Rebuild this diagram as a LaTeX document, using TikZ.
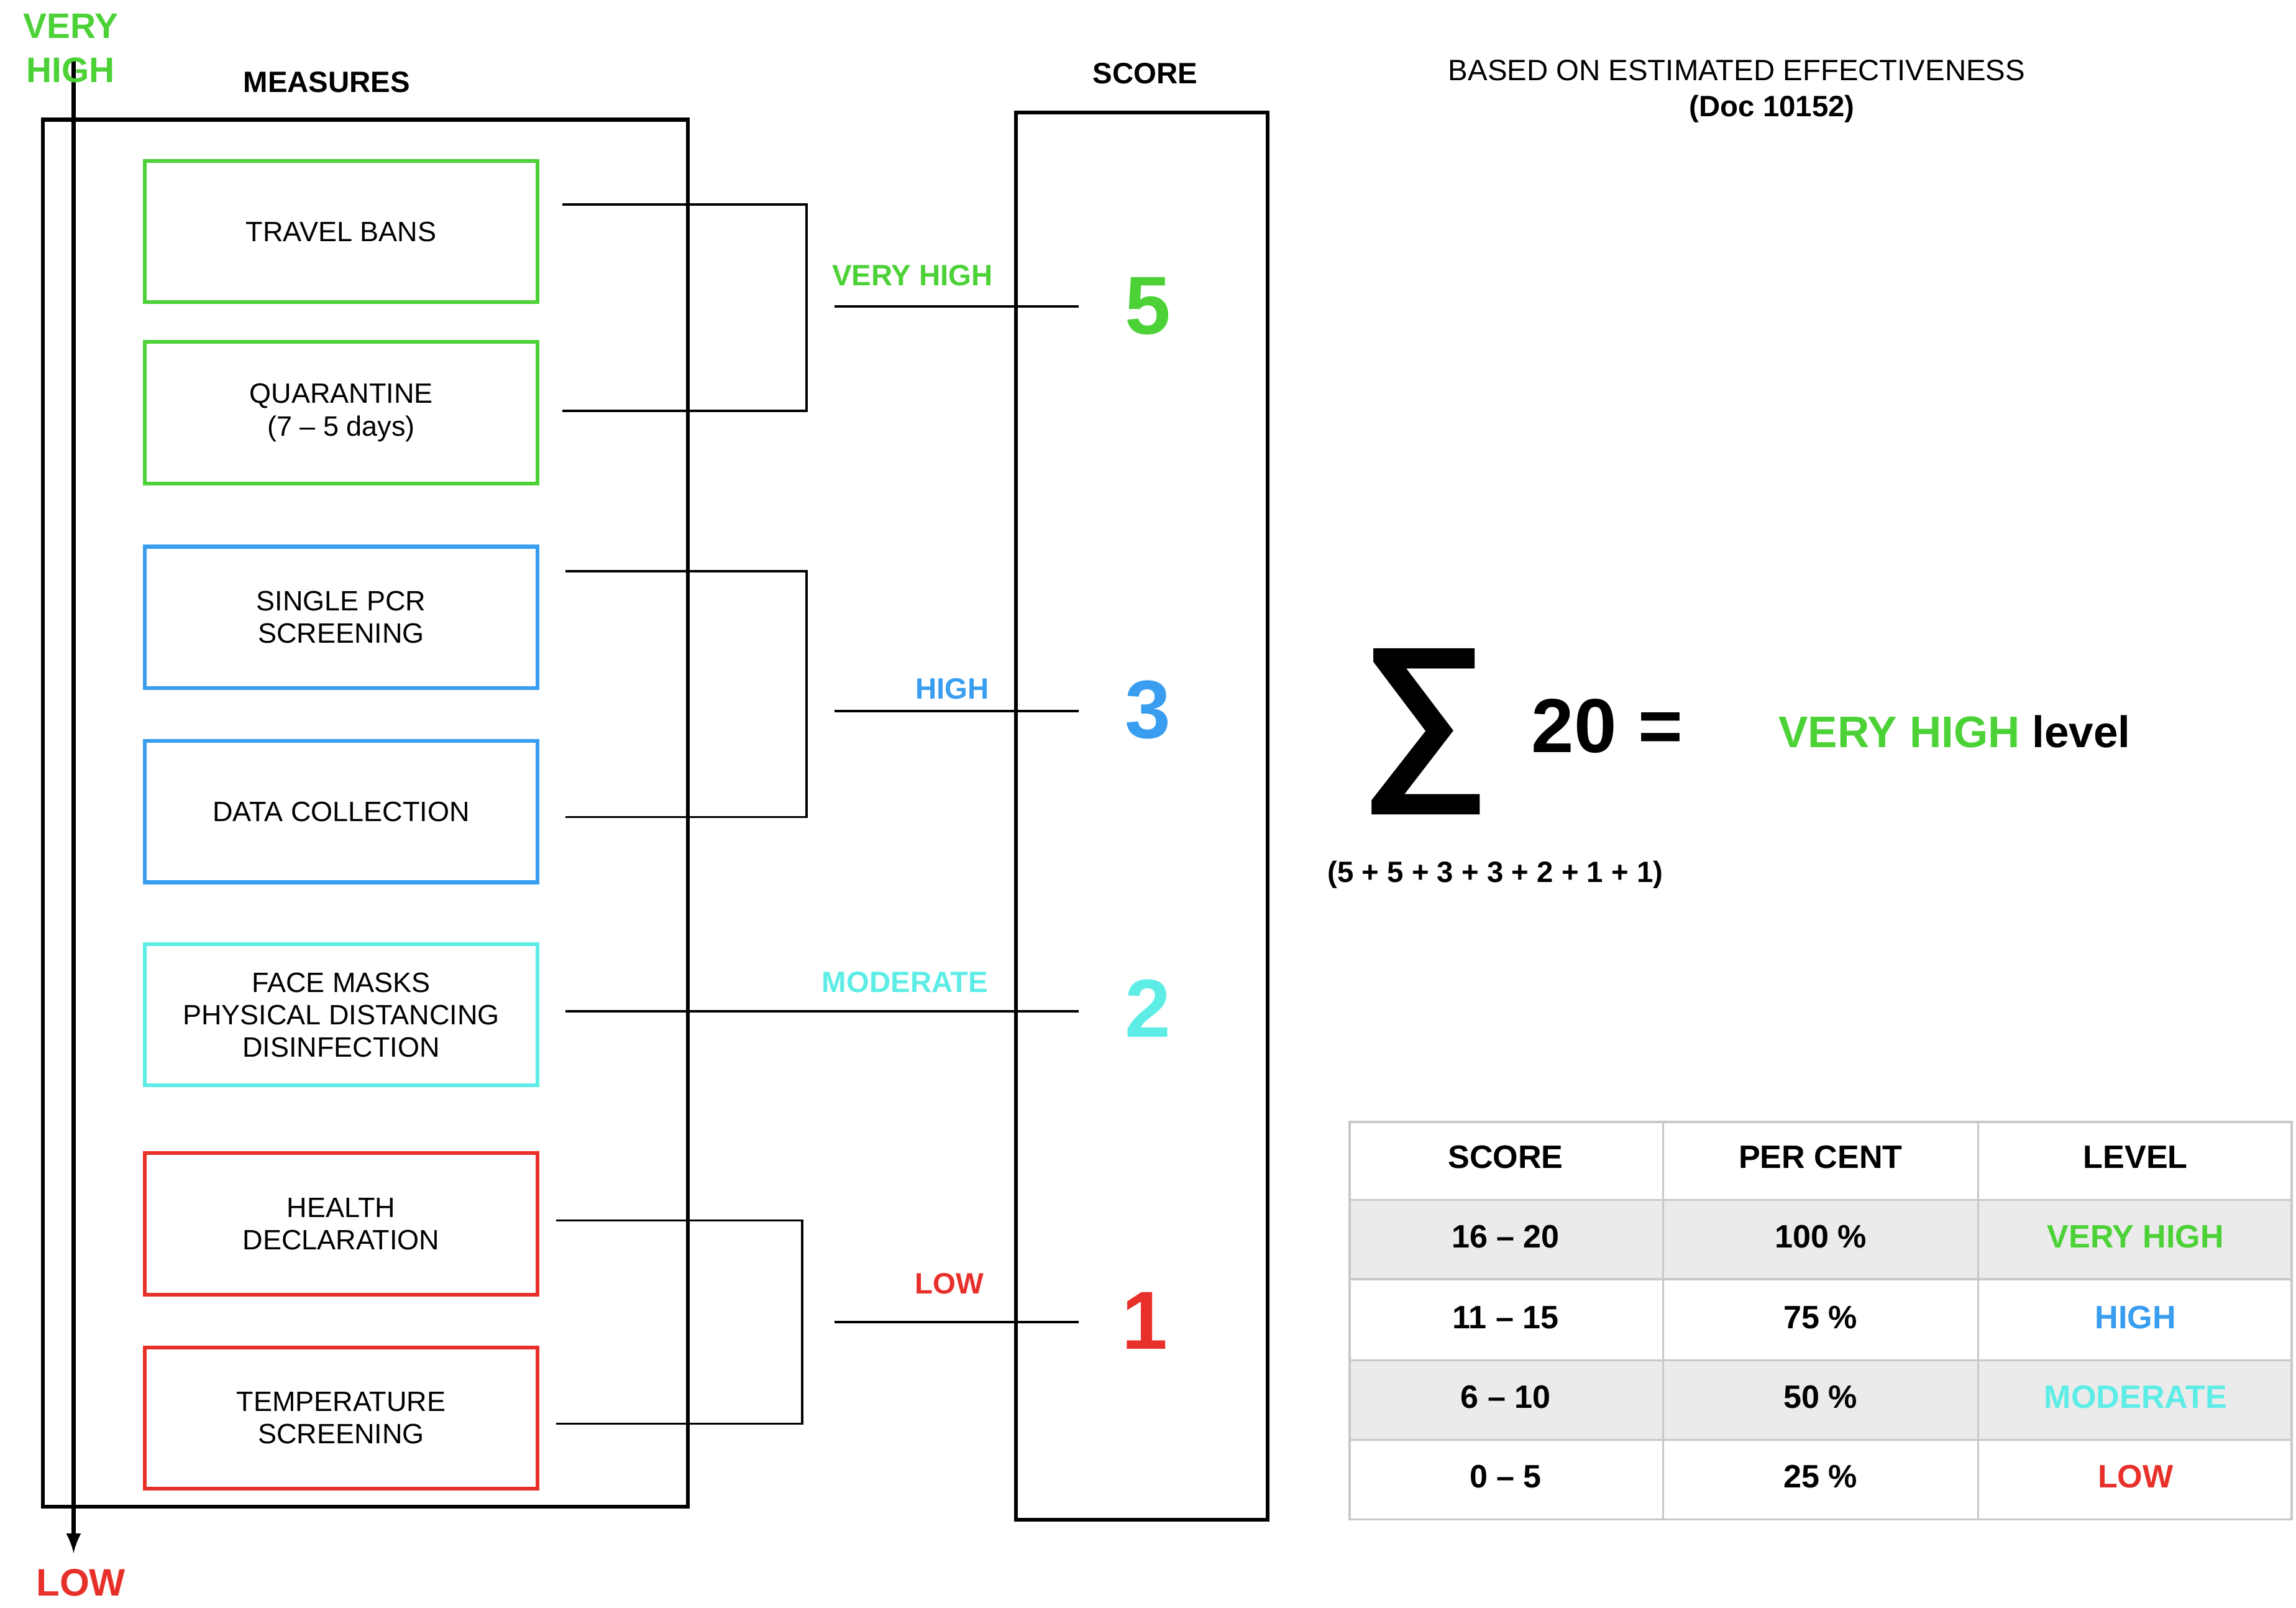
\documentclass[tikz,border=0pt]{standalone}
\usepackage{fontspec}
\setmainfont{Liberation Sans}
\definecolor{cg}{HTML}{4CD137}
\definecolor{cb}{HTML}{3A9EF0}
\definecolor{cc}{HTML}{5EEDE6}
\definecolor{cr}{HTML}{E8302A}
\definecolor{tg}{HTML}{C8C8C8}
\definecolor{tf}{HTML}{EBEBEB}
\begin{document}
\begin{tikzpicture}[x=0.5pt,y=-0.5pt,
  mb/.style={draw,line width=1.3pt,minimum width=133.5pt,minimum height=48pt,anchor=north west,align=center,font=\fontsize{9.5}{11}\selectfont,inner sep=0pt},
  ln/.style={line width=0.8pt},
  lab/.style={font=\bfseries\fontsize{10}{11}\selectfont},
  num/.style={font=\bfseries\fontsize{28}{30}\selectfont},
  cell/.style={font=\bfseries\fontsize{11}{12}\selectfont}]
\useasboundingbox (0,0) rectangle (1560,1092);
\node[draw,line width=1.3pt,minimum width=219pt,minimum height=471pt,anchor=north west,inner sep=0pt] (big) at (28,80) {};
\coordinate (at) at (50,40); \coordinate (ab) at (50,1055);
\draw[line width=1.3pt,-latex] (at) -- (ab);
\node[text=cg,font=\bfseries\fontsize{12}{15}\selectfont,align=center] (vh) at (48,33) {VERY\\HIGH};
\node[text=cr,font=\bfseries\fontsize{13}{15}\selectfont] (low) at (55,1075) {LOW};
\node[lab] (meas) at (222,56) {MEASURES};
\node[mb,draw=cg] (b1) at (97,108) {TRAVEL BANS};
\node[mb,draw=cg] (b2) at (97,231) {QUARANTINE\\(7 -- 5 days)};
\node[mb,draw=cb] (b3) at (97,370) {SINGLE PCR\\SCREENING};
\node[mb,draw=cb] (b4) at (97,502) {DATA COLLECTION};
\node[mb,draw=cc] (b5) at (97,640) {FACE MASKS\\PHYSICAL DISTANCING\\DISINFECTION};
\node[mb,draw=cr] (b6) at (97,782) {HEALTH\\DECLARATION};
\node[mb,draw=cr] (b7) at (97,914) {TEMPERATURE\\SCREENING};
\node[draw,line width=1.3pt,minimum width=85.5pt,minimum height=478pt,anchor=north west,inner sep=0pt] (sc) at (689,75) {};
\node[lab] (sct) at (778,50) {SCORE};
\draw[ln] (382,139) -- (548,139) -- (548,279) -- (382,279);
\draw[ln] (567,208) -- (733,208);
\node[lab,text=cg] at (620,187) {VERY HIGH};
\draw[ln] (384,388) -- (548,388) -- (548,555) -- (384,555);
\draw[ln] (567,483) -- (733,483);
\node[lab,text=cb] at (647,468) {HIGH};
\draw[ln] (384,687) -- (733,687);
\node[lab,text=cc] at (615,667) {MODERATE};
\draw[ln] (378,829) -- (545,829) -- (545,967) -- (378,967);
\draw[ln] (567,898) -- (733,898);
\node[lab,text=cr] at (645,872) {LOW};
\node[num,text=cg] (n5) at (780,208) {5};
\node[num,text=cb] (n3) at (780,482) {3};
\node[num,text=cc] (n2) at (780,685) {2};
\node[num,text=cr] (n1) at (778,897) {1};
\node[font=\fontsize{10}{11}\selectfont] (h1) at (1180,48) {BASED ON ESTIMATED EFFECTIVENESS};
\node[lab] (h2) at (1204,74) {(Doc 10152)};
\node[font=\bfseries\fontsize{62}{64}\selectfont] (sig) at (968,497) {∑};
\node[font=\bfseries\fontsize{26}{28}\selectfont] (tw) at (1092,493) {20 =};
\node[font=\bfseries\fontsize{15}{17}\selectfont] (vl) at (1328,497) {\textcolor{cg}{VERY HIGH} level};
\node[lab] (sm) at (1016,594) {(5 + 5 + 3 + 3 + 2 + 1 + 1)};
\fill[tf] (917,815) rectangle (1557,869);
\fill[tf] (917,924) rectangle (1557,978);
\draw[tg,line width=0.8pt] (917,762) rectangle (1557,1032);
\foreach \y in {815,869,924,978} \draw[tg,line width=0.8pt] (917,\y) -- (1557,\y);
\foreach \x in {1130,1344} \draw[tg,line width=0.8pt] (\x,762) -- (\x,1032);
\node[cell] at (1023,786) {SCORE};
\node[cell] at (1237,786) {PER CENT};
\node[cell] at (1451,786) {LEVEL};
\node[cell] at (1023,840) {16 -- 20};
\node[cell] at (1237,840) {100 \%};
\node[cell,text=cg] at (1451,840) {VERY HIGH};
\node[cell] at (1023,895) {11 -- 15};
\node[cell] at (1237,895) {75 \%};
\node[cell,text=cb] at (1451,895) {HIGH};
\node[cell] at (1023,949) {6 -- 10};
\node[cell] at (1237,949) {50 \%};
\node[cell,text=cc] at (1451,949) {MODERATE};
\node[cell] at (1023,1003) {0 -- 5};
\node[cell] at (1237,1003) {25 \%};
\node[cell,text=cr] at (1451,1003) {LOW};
\end{tikzpicture}
\end{document}
